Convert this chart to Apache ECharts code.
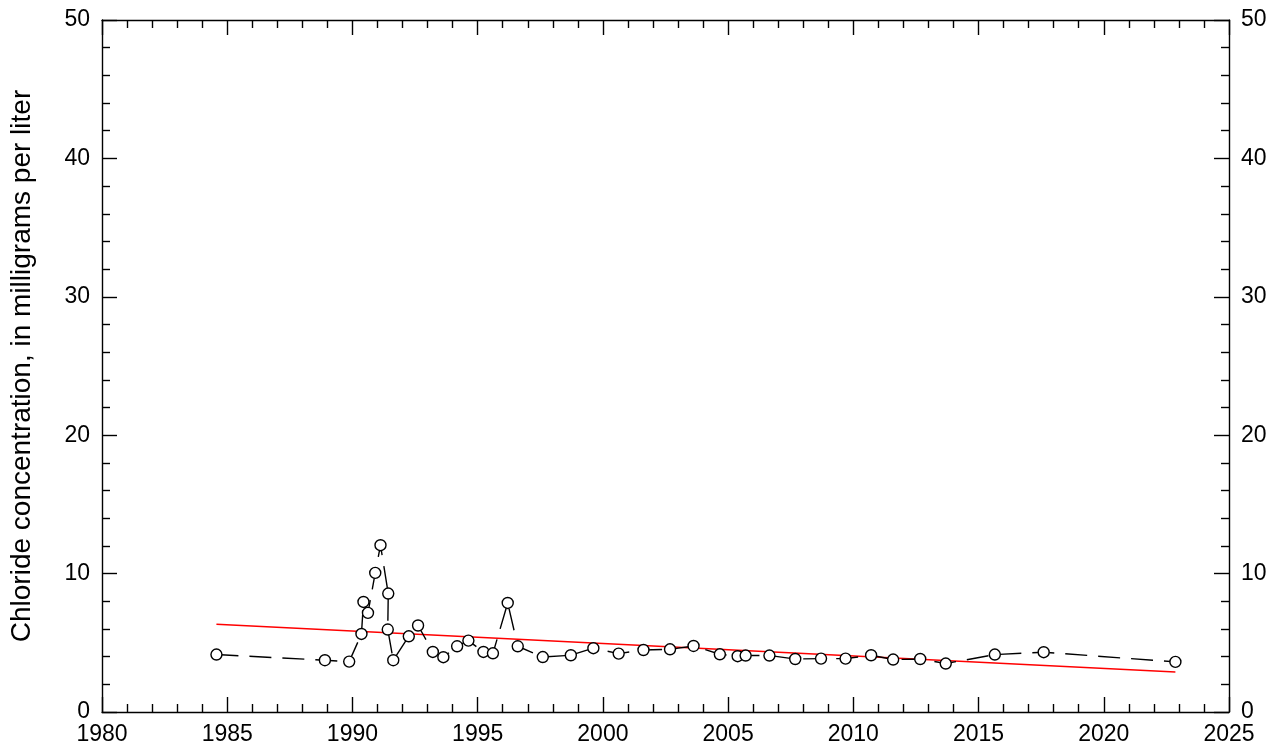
<!DOCTYPE html>
<html>
<head>
<meta charset="utf-8">
<script src="https://cdn.jsdelivr.net/npm/echarts@6/dist/echarts.min.js"></script>
<style>
html,body{margin:0;padding:0;background:#fff;}
#chart{width:1288px;height:752px;}
</style>
</head>
<body>
<div id="chart"></div>
<script>
// Sample dates (decimal years) and chloride concentrations (mg/L)
var sampleYears = [1984.57, 1988.90, 1989.87, 1990.36, 1990.44, 1990.62, 1990.91, 1991.12, 1991.43, 1991.41,
  1991.63, 1992.25, 1992.62, 1993.21, 1993.63, 1994.18, 1994.63, 1995.23, 1995.61, 1996.20,
  1996.60, 1997.60, 1998.72, 1999.62, 2000.63, 2001.62, 2002.68, 2003.62, 2004.67, 2005.38,
  2005.70, 2006.65, 2007.68, 2008.71, 2009.69, 2010.71, 2011.59, 2012.67, 2013.69, 2015.65,
  2017.60, 2022.86];
var chloride = [4.15, 3.74, 3.64, 5.64, 7.95, 7.16, 10.05, 12.05, 8.56, 5.96,
  3.74, 5.47, 6.25, 4.34, 3.96, 4.75, 5.16, 4.34, 4.24, 7.88,
  4.75, 3.97, 4.10, 4.61, 4.22, 4.48, 4.53, 4.77, 4.17, 4.03,
  4.08, 4.08, 3.83, 3.86, 3.86, 4.10, 3.79, 3.83, 3.50, 4.15,
  4.32, 3.62];
// Trend line end points
var trendYears = [1984.57, 2022.86];
var trendValues = [6.34, 2.89];
// Axis settings
var xMin = 1980, xMax = 2025, xStep = 5;
var yMin = 0, yMax = 50, yStep = 10;
var yAxisTitle = 'Chloride concentration, in milligrams per liter';

var FONT = "Arial, 'Liberation Sans', Helvetica, sans-serif";
var obsData = sampleYears.map(function (y, i) { return [y, chloride[i]]; });
var trendData = trendYears.map(function (y, i) { return [y, trendValues[i]]; });

function plain(v) { return String(v); }

function xAxisCfg(pos, showLabel) {
  return {
    type: 'value', position: pos, min: xMin, max: xMax, interval: xStep,
    axisLine: { show: true, onZero: false, lineStyle: { color: '#000', width: 1.4 } },
    axisTick: { show: true, inside: true, length: 15, lineStyle: { color: '#000', width: 1.4 } },
    minorTick: { show: true, splitNumber: 5, length: 8, lineStyle: { color: '#000', width: 1.4 } },
    splitLine: { show: false },
    axisLabel: { show: showLabel, color: '#000', fontSize: 23, fontFamily: FONT, margin: 11, formatter: plain }
  };
}
function yAxisCfg(pos, withName) {
  var a = {
    type: 'value', position: pos, min: yMin, max: yMax, interval: yStep,
    axisLine: { show: true, onZero: false, lineStyle: { color: '#000', width: 1.4 } },
    axisTick: { show: true, inside: true, length: 15, lineStyle: { color: '#000', width: 1.4 } },
    minorTick: { show: true, splitNumber: 5, length: 8, lineStyle: { color: '#000', width: 1.4 } },
    splitLine: { show: false },
    axisLabel: { show: true, color: '#000', fontSize: 23, fontFamily: FONT, margin: 12, formatter: plain }
  };
  if (withName) {
    a.name = yAxisTitle;
    a.nameLocation = 'middle';
    a.nameGap = 66;
    a.nameTextStyle = { color: '#000', fontSize: 28, fontFamily: FONT };
  }
  return a;
}

var chart = echarts.init(document.getElementById('chart'), null, { renderer: 'canvas' });
chart.setOption({
  animation: false,
  backgroundColor: '#fff',
  grid: { left: 99, right: 59, top: 20, bottom: 40, containLabel: false },
  xAxis: [xAxisCfg('bottom', true), xAxisCfg('top', false)],
  yAxis: [yAxisCfg('left', true), yAxisCfg('right', false)],
  series: [
    {
      name: 'Trend', type: 'line', xAxisIndex: 0, yAxisIndex: 0,
      data: trendData, showSymbol: false, symbol: 'none', z: 2,
      lineStyle: { color: '#ff0000', width: 1.3 }
    },
    {
      name: 'Chloride', type: 'line', xAxisIndex: 0, yAxisIndex: 0,
      data: obsData, z: 3,
      symbol: 'circle', symbolSize: 11, showAllSymbol: true,
      lineStyle: { color: '#000', width: 1.4, type: [22, 11] },
      itemStyle: { color: '#fff', borderColor: '#000', borderWidth: 1.4 }
    }
  ]
});
</script>
</body>
</html>
